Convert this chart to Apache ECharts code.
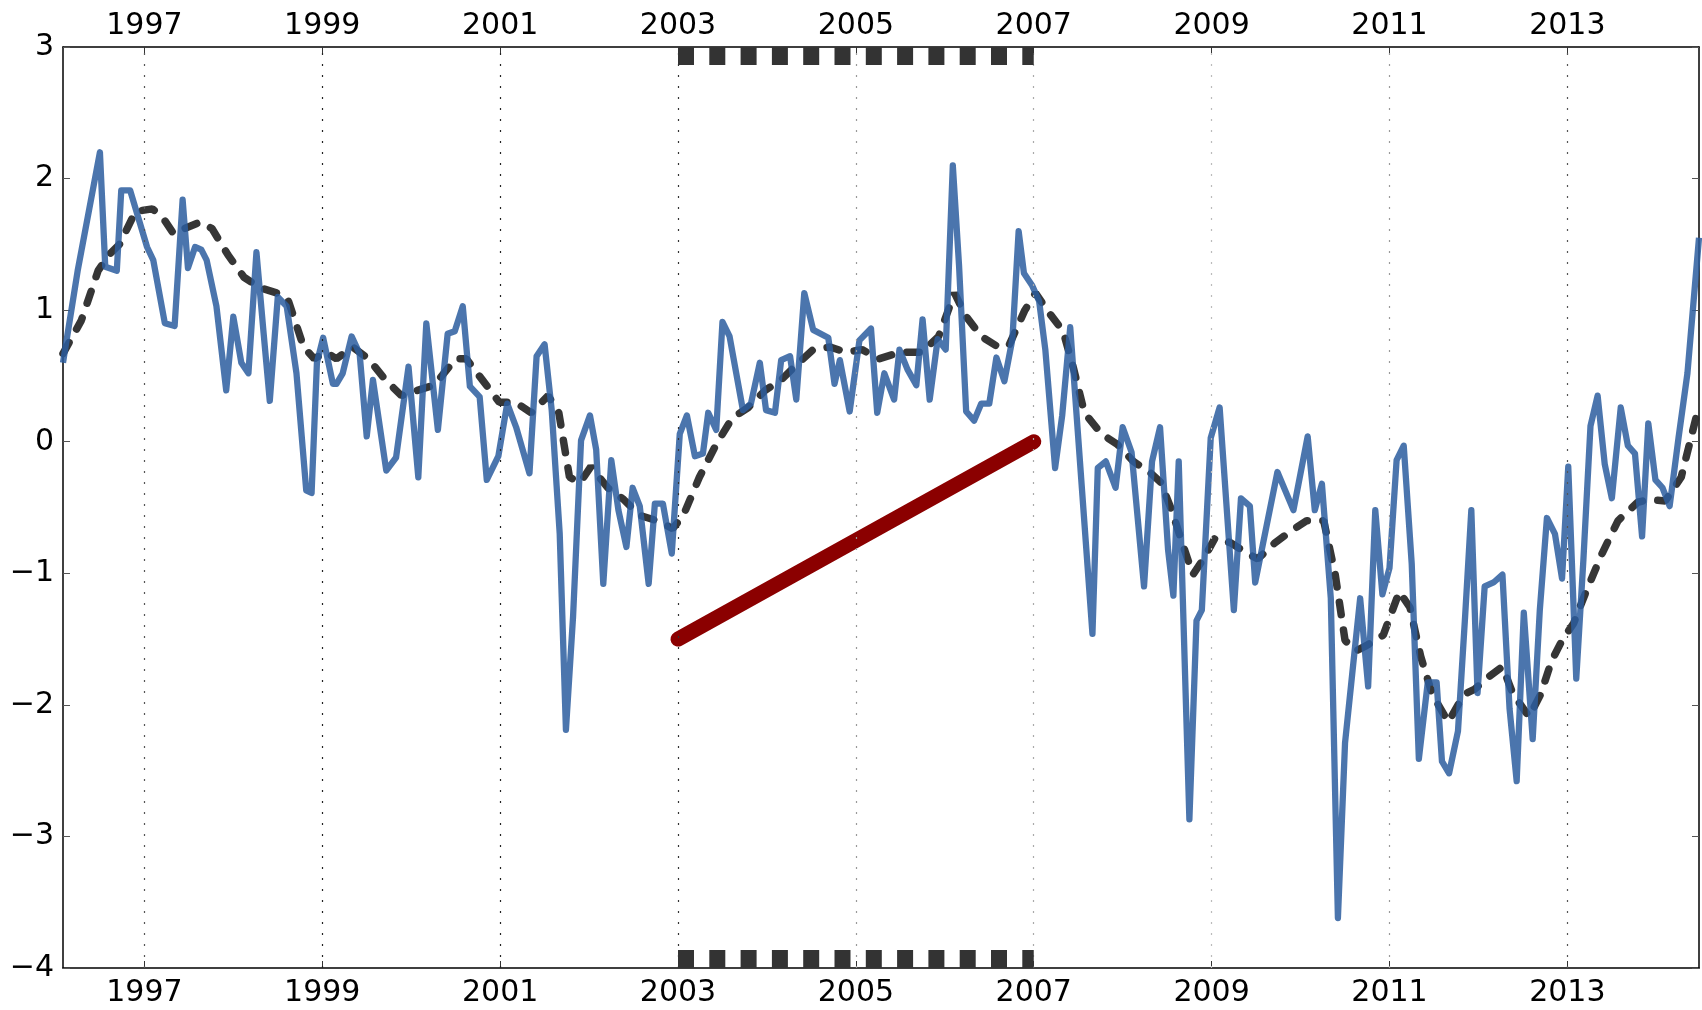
<!DOCTYPE html>
<html>
<head>
<meta charset="utf-8">
<script src="https://cdn.jsdelivr.net/npm/echarts@6/dist/echarts.min.js"></script>
<style>
html,body{margin:0;padding:0;background:#fff;}
#chart{width:1702px;height:1010px;}
</style>
</head>
<body>
<div id="chart"></div>
<script>
// ---- data ----
const tickYears = [1997, 1999, 2001, 2003, 2005, 2007, 2009, 2011, 2013];
const xRange = [1996.085, 2014.48];
const yRange = [-4, 3];

// monthly index (decimal year, value)
const observed = [
  [1996.085, 0.60], [1996.25, 1.30], [1996.50, 2.20], [1996.56, 1.33], [1996.69, 1.30],
  [1996.74, 1.91], [1996.84, 1.91], [1997.03, 1.48], [1997.10, 1.38], [1997.23, 0.90],
  [1997.34, 0.88], [1997.43, 1.84], [1997.49, 1.32], [1997.57, 1.48], [1997.64, 1.46],
  [1997.70, 1.38], [1997.81, 1.03], [1997.92, 0.39], [1998.00, 0.95], [1998.09, 0.60],
  [1998.17, 0.52], [1998.26, 1.44], [1998.34, 0.83], [1998.41, 0.31], [1998.50, 1.10],
  [1998.60, 1.03], [1998.71, 0.52], [1998.82, -0.37], [1998.88, -0.39], [1998.94, 0.60],
  [1999.01, 0.79], [1999.12, 0.44], [1999.16, 0.44], [1999.23, 0.52], [1999.33, 0.80],
  [1999.42, 0.67], [1999.50, 0.04], [1999.57, 0.47], [1999.72, -0.22], [1999.83, -0.12],
  [1999.97, 0.57], [2000.08, -0.27], [2000.17, 0.90], [2000.30, 0.09], [2000.41, 0.82],
  [2000.49, 0.84], [2000.58, 1.03], [2000.66, 0.42], [2000.77, 0.34], [2000.85, -0.29],
  [2000.98, -0.11], [2001.08, 0.29], [2001.18, 0.11], [2001.33, -0.24], [2001.41, 0.65],
  [2001.50, 0.74], [2001.58, 0.24], [2001.67, -0.70], [2001.74, -2.19], [2001.82, -1.33],
  [2001.91, 0.01], [2002.01, 0.20], [2002.08, -0.06], [2002.16, -1.08], [2002.25, -0.14],
  [2002.33, -0.52], [2002.42, -0.80], [2002.49, -0.35], [2002.57, -0.49], [2002.67, -1.08],
  [2002.74, -0.47], [2002.83, -0.47], [2002.93, -0.85], [2003.02, 0.06], [2003.10, 0.20],
  [2003.19, -0.11], [2003.28, -0.09], [2003.34, 0.22], [2003.43, 0.09], [2003.50, 0.91],
  [2003.58, 0.80], [2003.73, 0.24], [2003.82, 0.29], [2003.92, 0.60], [2003.99, 0.24],
  [2004.09, 0.22], [2004.16, 0.62], [2004.26, 0.65], [2004.33, 0.32], [2004.42, 1.13],
  [2004.52, 0.85], [2004.69, 0.79], [2004.76, 0.44], [2004.82, 0.62], [2004.93, 0.23],
  [2005.04, 0.77], [2005.17, 0.86], [2005.24, 0.22], [2005.32, 0.52], [2005.43, 0.32],
  [2005.49, 0.70], [2005.58, 0.55], [2005.68, 0.43], [2005.75, 0.93], [2005.83, 0.32],
  [2005.92, 0.78], [2006.01, 0.70], [2006.09, 2.10], [2006.16, 1.34], [2006.24, 0.23],
  [2006.33, 0.16], [2006.41, 0.29], [2006.50, 0.29], [2006.58, 0.64], [2006.67, 0.46],
  [2006.76, 0.78], [2006.83, 1.60], [2006.89, 1.28], [2006.98, 1.19], [2007.06, 1.07],
  [2007.13, 0.70], [2007.24, -0.20], [2007.32, 0.20], [2007.41, 0.87], [2007.66, -1.46],
  [2007.72, -0.20], [2007.81, -0.15], [2007.92, -0.35], [2008.00, 0.11], [2008.10, -0.08],
  [2008.24, -1.10], [2008.33, -0.15], [2008.42, 0.11], [2008.51, -0.82], [2008.57, -1.17],
  [2008.63, -0.15], [2008.75, -2.87], [2008.83, -1.36], [2008.89, -1.28], [2008.99, 0.03],
  [2009.09, 0.26], [2009.25, -1.28], [2009.33, -0.43], [2009.43, -0.49], [2009.49, -1.07],
  [2009.74, -0.23], [2009.92, -0.52], [2010.08, 0.04], [2010.16, -0.52], [2010.24, -0.32],
  [2010.34, -1.19], [2010.42, -3.62], [2010.50, -2.29], [2010.58, -1.77], [2010.67, -1.19],
  [2010.76, -1.86], [2010.84, -0.52], [2010.92, -1.16], [2011.00, -0.96], [2011.08, -0.14],
  [2011.16, -0.03], [2011.25, -0.93], [2011.33, -2.41], [2011.43, -1.83], [2011.53, -1.83],
  [2011.59, -2.43], [2011.67, -2.52], [2011.77, -2.20], [2011.85, -1.33], [2011.92, -0.52],
  [2011.99, -1.91], [2012.07, -1.10], [2012.17, -1.07], [2012.27, -1.01], [2012.35, -2.03],
  [2012.43, -2.58], [2012.51, -1.30], [2012.61, -2.26], [2012.69, -1.28], [2012.77, -0.58],
  [2012.86, -0.70], [2012.94, -1.04], [2013.01, -0.19], [2013.10, -1.80], [2013.18, -0.90],
  [2013.26, 0.12], [2013.34, 0.35], [2013.42, -0.17], [2013.50, -0.43], [2013.60, 0.26],
  [2013.68, -0.03], [2013.76, -0.09], [2013.84, -0.72], [2013.91, 0.14], [2013.99, -0.29],
  [2014.07, -0.35], [2014.15, -0.49], [2014.25, 0.03], [2014.35, 0.52], [2014.48, 1.55]
];

// smoothed index
const smoothed = [
  [1996.085, 0.67], [1996.29, 0.92], [1996.48, 1.30], [1996.60, 1.42], [1996.72, 1.50],
  [1996.90, 1.75], [1997.09, 1.77], [1997.21, 1.70], [1997.33, 1.58], [1997.45, 1.62],
  [1997.63, 1.67], [1997.76, 1.62], [1997.94, 1.42], [1998.12, 1.25], [1998.30, 1.17],
  [1998.49, 1.13], [1998.61, 1.09], [1998.79, 0.72], [1998.91, 0.63], [1999.04, 0.68],
  [1999.16, 0.63], [1999.34, 0.72], [1999.52, 0.63], [1999.71, 0.47], [1999.89, 0.35],
  [2000.07, 0.39], [2000.26, 0.43], [2000.50, 0.63], [2000.62, 0.63], [2000.80, 0.47],
  [2000.99, 0.30], [2001.17, 0.30], [2001.35, 0.22], [2001.54, 0.35], [2001.66, 0.22],
  [2001.78, -0.27], [2001.90, -0.31], [2002.02, -0.19], [2002.21, -0.35], [2002.39, -0.44],
  [2002.57, -0.56], [2002.76, -0.60], [2002.94, -0.66], [2003.06, -0.56], [2003.24, -0.27],
  [2003.43, -0.02], [2003.61, 0.18], [2003.79, 0.26], [2003.98, 0.39], [2004.16, 0.47],
  [2004.34, 0.59], [2004.52, 0.70], [2004.71, 0.72], [2004.89, 0.68], [2005.07, 0.70],
  [2005.26, 0.63], [2005.50, 0.68], [2005.74, 0.68], [2005.93, 0.80], [2006.11, 1.13],
  [2006.23, 0.96], [2006.41, 0.80], [2006.60, 0.72], [2006.72, 0.73], [2006.90, 1.00],
  [2007.02, 1.13], [2007.15, 1.00], [2007.33, 0.84], [2007.45, 0.55], [2007.57, 0.22],
  [2007.76, 0.06], [2007.94, -0.02], [2008.12, -0.15], [2008.30, -0.23], [2008.43, -0.31],
  [2008.55, -0.52], [2008.67, -0.77], [2008.79, -1.01], [2008.91, -0.89], [2009.04, -0.73],
  [2009.22, -0.77], [2009.40, -0.85], [2009.52, -0.89], [2009.71, -0.77], [2009.89, -0.68],
  [2010.07, -0.60], [2010.26, -0.60], [2010.39, -1.01], [2010.50, -1.51], [2010.62, -1.59],
  [2010.74, -1.55], [2010.93, -1.47], [2011.11, -1.14], [2011.23, -1.26], [2011.35, -1.63],
  [2011.48, -1.92], [2011.66, -2.13], [2011.84, -1.92], [2011.96, -1.88], [2012.09, -1.80],
  [2012.27, -1.71], [2012.39, -1.92], [2012.57, -2.09], [2012.70, -1.92], [2012.82, -1.67],
  [2012.94, -1.51], [2013.07, -1.38], [2013.21, -1.14], [2013.39, -0.85], [2013.57, -0.60],
  [2013.79, -0.46], [2013.91, -0.44], [2014.10, -0.45], [2014.28, -0.27], [2014.46, 0.22]
];

// trend segment and highlighted period (start year, end year, y at frame edges)
const trendLine = [[2003, -1.5], [2007, 0]];
const periodBars = [[2003, 2007, 3], [2003, 2007, -4]];
const gridShades = ['#555', '#222', '#222', '#333', '#999', '#aaa', '#bbb', '#999', '#555'];

// ---- chart ----
const FONT = 'DejaVu Sans';
const chart = echarts.init(document.getElementById('chart'));
const yearFmt = v => String(Math.round(v));
const axisLineStyle = { color: '#000', width: 1.5 };
const xCommon = {
  type: 'value', min: xRange[0], max: xRange[1],
  axisLine: { show: true, lineStyle: axisLineStyle, onZero: false },
  axisTick: { show: true, inside: true, length: 7, customValues: tickYears, lineStyle: { color: '#333', width: 1 } },
  splitLine: { show: false }
};
const yCommon = {
  type: 'value', min: yRange[0], max: yRange[1], interval: 1,
  axisLine: { show: true, lineStyle: axisLineStyle, onZero: false },
  axisTick: { show: true, inside: true, length: 7, lineStyle: { color: '#555', width: 1 } },
  splitLine: { show: false }
};

chart.setOption({
  animation: false,
  backgroundColor: '#fff',
  grid: { left: 63, right: 3, top: 47, bottom: 42, containLabel: false },
  xAxis: [
    Object.assign({}, xCommon, { position: 'bottom',
      axisLabel: { customValues: tickYears, formatter: yearFmt, fontSize: 30, fontFamily: FONT, color: '#000', margin: 10 } }),
    Object.assign({}, xCommon, { position: 'top',
      axisLabel: { customValues: tickYears, formatter: yearFmt, fontSize: 30, fontFamily: FONT, color: '#000', margin: 6 } })
  ],
  yAxis: [
    Object.assign({}, yCommon, { position: 'left',
      axisLabel: { fontSize: 30, fontFamily: FONT, color: '#000', margin: 9,
        formatter: v => v < 0 ? '\u2212' + Math.abs(v) : String(v) } }),
    Object.assign({}, yCommon, { position: 'right', axisLabel: { show: false } })
  ],
  series: [
    {
      name: 'grid', type: 'line', data: [], z: 1, silent: true,
      markLine: {
        silent: true, symbol: ['none', 'none'], label: { show: false },
        data: tickYears.map((yr, i) => ({ xAxis: yr, lineStyle: { color: gridShades[i], width: 1.2, type: [2, 9] } }))
      }
    },
    {
      name: 'smoothed', type: 'line', data: smoothed, showSymbol: false, z: 2,
      lineStyle: { color: '#2b2b2b', width: 7.5, type: [12.5, 15.5], cap: 'round', opacity: 0.95 }
    },
    {
      name: 'observed', type: 'line', data: observed, showSymbol: false, z: 3,
      lineStyle: { color: '#2c5d9f', width: 6.3, opacity: 0.85, join: 'round' }
    },
    {
      name: 'trend', type: 'line', data: trendLine, showSymbol: false, z: 4,
      lineStyle: { color: '#8b0000', width: 15, cap: 'round' }
    },
    {
      name: 'period', type: 'custom', data: periodBars, z: 5, silent: true,
      encode: { x: [0, 1], y: 2 },
      renderItem: function (params, api) {
        const p1 = api.coord([api.value(0), api.value(2)]);
        const p2 = api.coord([api.value(1), api.value(2)]);
        const cs = params.coordSys;
        return {
          type: 'line',
          shape: { x1: p1[0], y1: p1[1], x2: p2[0], y2: p2[1] },
          style: { stroke: '#333', lineWidth: 36, lineDash: [16, 15.3], lineCap: 'butt' },
          clipPath: { type: 'rect', shape: { x: cs.x, y: cs.y, width: cs.width, height: cs.height } }
        };
      }
    }
  ]
});
</script>
</body>
</html>
